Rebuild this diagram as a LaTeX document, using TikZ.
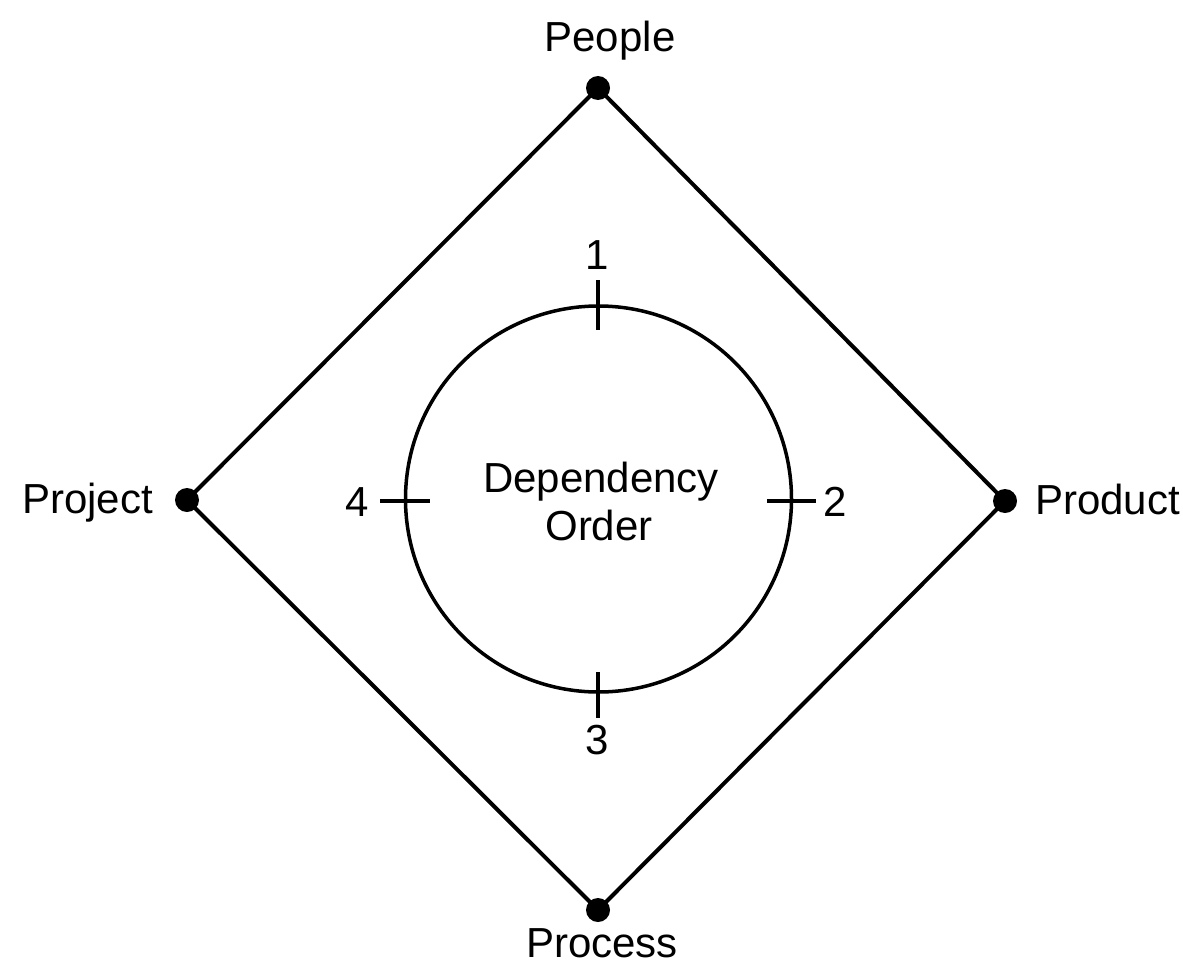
\documentclass[tikz,border=0pt]{standalone}
\usepackage{fontspec}
\setmainfont{Liberation Sans}
\begin{document}
\begin{tikzpicture}[x=1pt,y=-1pt,
  lbl/.style={font=\fontsize{42}{48}\selectfont, inner sep=0pt},
  dotnode/.style={circle, fill=black, inner sep=0pt, minimum size=24pt},
  edge/.style={line width=4pt},
  tick/.style={line width=3.5pt}]
\useasboundingbox (0,0) rectangle (1183,966);
% corner dots
\node[dotnode] (people)  at (598,88) {};
\node[dotnode] (product) at (1005,501) {};
\node[dotnode] (process) at (598,910) {};
\node[dotnode] (project) at (187,500) {};
% diamond
\draw[edge] (people.center) -- (product.center) -- (process.center) -- (project.center) -- cycle;
% labels
\node[lbl, anchor=base] (tpeople) at (610,52) {People};
\node[lbl, anchor=base west] (tproduct) at (1035,514) {Product};
\node[lbl, anchor=base] (tprocess) at (602,957) {Process};
\node[lbl, anchor=base east] (tproject) at (153,513) {Project};
% circle
\node[circle, draw, line width=3.5pt, minimum size=386pt, inner sep=0pt] (ring) at (598.5,499) {};
% ticks
\coordinate (t1a) at (598,280); \coordinate (t1b) at (598,330);
\coordinate (t2a) at (767,501); \coordinate (t2b) at (816,501);
\coordinate (t3a) at (598,672); \coordinate (t3b) at (598,718);
\coordinate (t4a) at (380,501); \coordinate (t4b) at (430,501);
\draw[tick] (t1a) -- (t1b);
\draw[tick] (t2a) -- (t2b);
\draw[tick] (t3a) -- (t3b);
\draw[tick] (t4a) -- (t4b);
% numbers
\node[lbl] (n1) at (597,255) {1};
\node[lbl] (n2) at (835,502) {2};
\node[lbl] (n3) at (597,740) {3};
\node[lbl] (n4) at (357,502) {4};
% centre text
\node[lbl, anchor=base] (dep) at (601,492) {Dependency};
\node[lbl, anchor=base] (ord) at (599,540) {Order};
\end{tikzpicture}
\end{document}
